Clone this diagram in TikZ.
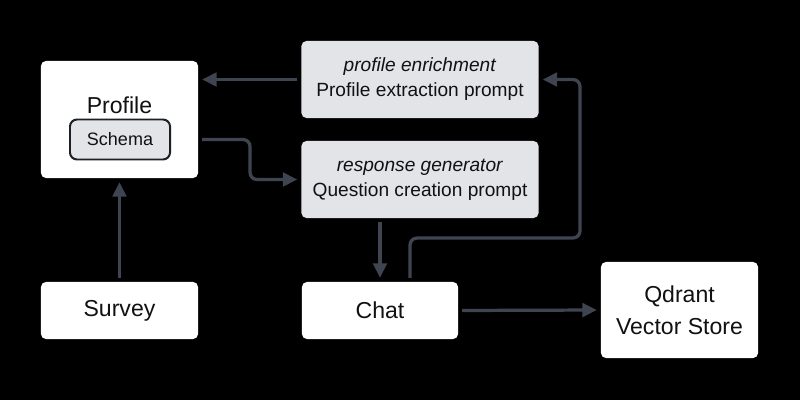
\documentclass[tikz,border=0pt]{standalone}
\usepackage{fontspec}
\setmainfont{Liberation Sans}
\usetikzlibrary{positioning,arrows.meta,calc}
\definecolor{ink}{HTML}{111111}
\definecolor{wire}{HTML}{3F4550}
\definecolor{promptgray}{HTML}{E2E4E8}
\definecolor{edge}{HTML}{1C1F24}
\tikzset{
  every node/.style={text=ink},
  card/.style={fill=#1, draw=none, rounded corners=3.5pt, inner sep=0pt,
               align=center, font=\fontsize{16.4}{22.8}\selectfont},
  card/.default=white,
  promptbox/.style={card=promptgray, minimum width=5.925cm, minimum height=1.925cm,
                    font=\fontsize{13.6}{17.8}\selectfont},
  tag/.style={fill=promptgray, draw=edge, line width=1.4pt, rounded corners=5pt,
              minimum width=2.5cm, minimum height=1cm, inner sep=0pt,
              font=\fontsize{12.8}{15}\selectfont},
  arr/.style={-{Triangle[length=3.6mm,width=3.4mm]}, draw=wire, line width=2.3pt,
              shorten <=2.8pt, shorten >=2.8pt, rounded corners=5pt},
}

\begin{document}
\begin{tikzpicture}[x=0.025cm,y=-0.025cm]
\fill[black] (0,0) rectangle (800,400);
\useasboundingbox (0,0) rectangle (800,400);

% ---------------- left column ----------------
\node[card, minimum width=3.925cm, minimum height=2.925cm] (prof) at (119.5,119.5) {};
\node[font=\fontsize{16.4}{22.8}\selectfont] (proftxt) at (119.5,105) {Profile};
\node[tag] (schema) at (120,139.5) {Schema};
\node[card, minimum width=3.925cm, minimum height=1.425cm] (survey) at (119.5,310.5) {Survey};

% ---------------- prompts ----------------
\node[promptbox] (enr) at (420,79.5)
  {\textit{profile enrichment}\\ Profile extraction prompt};
\node[promptbox] (resp) at (420,179.5)
  {\textit{response generator}\\ Question creation prompt};

% ---------------- bottom row ----------------
\node[card, minimum width=3.9cm, minimum height=1.425cm] (chat) at (380,310.5) {Chat};
\node[card, minimum width=3.925cm, minimum height=2.4cm] (qdrant) at (679.5,310)
  {Qdrant\\ Vector Store};

% ---------------- arrows ----------------
\coordinate (j1) at (250,0);
\coordinate (loop) at (580,238);
\draw[arr] (survey) -- (prof);
\draw[arr] (enr.west) -- (prof.east |- enr.west);
\draw[arr] (prof.east |- schema) -| (j1 |- resp.west) -- (resp.west);
\draw[arr] (resp.south -| chat.north) -- (chat.north);
\draw[arr] ($(chat.north)+(30,0)$) |- (loop) |- (enr.east);
\draw[arr] (chat.east) -- (qdrant.west);

\end{tikzpicture}
\end{document}
